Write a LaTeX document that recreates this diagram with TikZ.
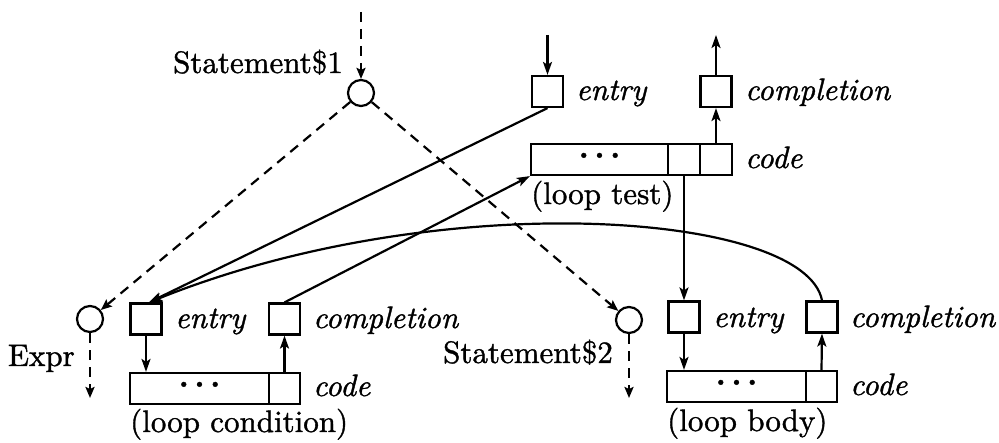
\documentclass[tikz,border=0pt]{standalone}
\usepackage{fontspec}
\setmainfont{lmroman10-regular}[Extension=.otf, ItalicFont=lmroman10-italic, BoldFont=lmroman10-bold, FakeBold=1.2]
\usetikzlibrary{arrows.meta,calc}
\newcommand{\mydots}{\textbf{·\kern-12pt·\kern-12pt·}}
\begin{document}
\begin{tikzpicture}[x=1pt,y=-1pt,
  every node/.style={font=\fontsize{31}{37}\selectfont},
  ln/.style={line width=2.2pt},
  arr/.style={ln,-{Stealth[length=13pt,width=9pt,inset=3pt]}},
  darr/.style={ln,dash pattern=on 10pt off 7pt,-{Stealth[length=11pt,width=9pt,inset=2pt]}},
  sq/.style={draw,ln,minimum width=31pt,minimum height=31pt,inner sep=0pt},
  cell/.style={draw,ln,minimum height=31pt,inner sep=0pt},
  circ/.style={draw,ln,circle,minimum size=26pt,inner sep=0pt},
  lab/.style={inner sep=0pt,anchor=base west},
  labit/.style={lab,font=\fontsize{31}{37}\selectfont\itshape},
  labr/.style={inner sep=0pt,anchor=base east}
]
\useasboundingbox (0,0) rectangle (999,443);

% ---- Statement$1
\node[circ] (s1) at (361,93) {};
\node[labr] (s1l) at (343,73) {Statement\$1};
\coordinate (s1in) at (361,12);

% ---- top (loop test)
\node[sq] (te) at (547.5,91.5) {};
\node[sq] (tc) at (716,91.5) {};
\node[labit] (tel) at (576,100) {entry};
\node[labit] (tcl) at (745,100) {completion};
\node[cell,minimum width=137pt] (tb1) at (599.5,159.5) {\mydots};
\node[cell,minimum width=32pt] (tb2) at (684,159.5) {};
\node[cell,minimum width=32pt] (tb3) at (716,159.5) {};
\node[labit] (tbl) at (745,168) {code};
\node[lab] (tbn) at (531,204) {(loop test)};
\coordinate (tein) at (547.5,35);
\coordinate (tcout) at (716,35);

% ---- bottom left (Expr, loop condition)
\node[circ] (e) at (90,319) {};
\node[labr] (el) at (75,366) {Expr};
\coordinate (eout) at (90,398);
\node[sq] (le) at (146,319) {};
\node[sq] (lc) at (284.5,319) {};
\node[labit] (lel) at (175,328) {entry};
\node[labit] (lcl) at (313,328) {completion};
\node[cell,minimum width=139pt] (lb1) at (199.5,388.5) {\mydots};
\node[cell,minimum width=31pt] (lb2) at (284.5,388.5) {};
\node[labit] (lbl) at (313,396) {code};
\node[lab] (lbn) at (130,432) {(loop condition)};

% ---- bottom right (Statement$2, loop body)
\node[circ] (s2) at (629,320) {};
\node[labr] (s2l) at (613,363) {Statement\$2};
\coordinate (s2out) at (629,398);
\node[sq] (be) at (684,317) {};
\node[sq] (bc) at (822,317) {};
\node[labit] (bel) at (713,327) {entry};
\node[labit] (bcl) at (850,327) {completion};
\node[cell,minimum width=139pt] (bb1) at (736.5,386.5) {\mydots};
\node[cell,minimum width=31pt] (bb2) at (821.5,386.5) {};
\node[labit] (bbl) at (850,395) {code};
\node[lab] (bbn) at (667,431) {(loop body)};

% ---- connectors
\coordinate (letip) at ($(le.north)+(3,0)$);
\draw[darr] (s1in) -- (s1);
\draw[darr] (s1) -- (e);
\draw[darr] (s1) -- (s2);
\draw[darr] (e) -- (eout);
\draw[darr] (s2) -- (s2out);

\draw[arr] (tein) -- (te);
\draw[arr] (tc) -- (tcout);
\draw[arr] (tb3.north) -- (tc.south);
\draw[arr] (tb2.south) -- (be.north);
\draw[arr] (te.south) -- (letip);
\draw[arr] (lc.north) -- (tb1.south west);
\draw[arr] (bc.north) .. controls (805,212) and (440,185) .. (letip);

\draw[arr] (le.south) -- (le.south |- lb1.north);
\draw[arr] (lb2.north) -- (lc.south);
\draw[arr] (be.south) -- (be.south |- bb1.north);
\draw[arr] (bb2.north) -- (bc.south);
\end{tikzpicture}
\end{document}
